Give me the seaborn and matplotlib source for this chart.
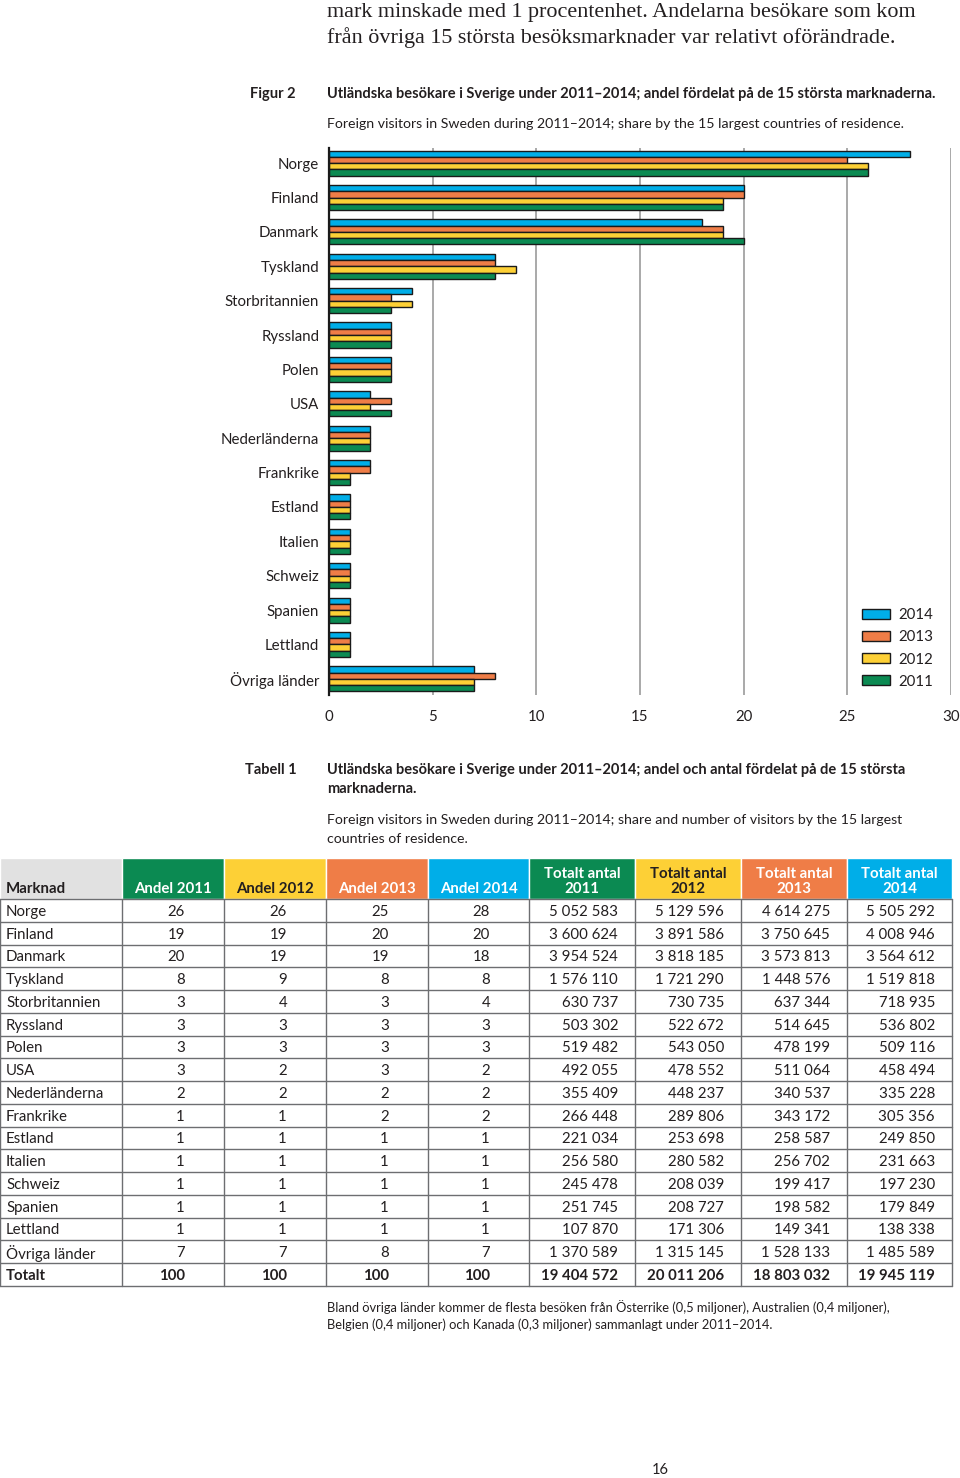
import pandas as pd
import seaborn as sns
import matplotlib.pyplot as plt
from matplotlib.patches import Rectangle

# ---------------------------------- data ----------------------------------
marknader = ["Norge", "Finland", "Danmark", "Tyskland", "Storbritannien", "Ryssland",
             "Polen", "USA", "Nederländerna", "Frankrike", "Estland", "Italien",
             "Schweiz", "Spanien", "Lettland", "Övriga länder"]

andel_2011 = [26, 19, 20, 8, 3, 3, 3, 3, 2, 1, 1, 1, 1, 1, 1, 7]
andel_2012 = [26, 19, 19, 9, 4, 3, 3, 2, 2, 1, 1, 1, 1, 1, 1, 7]
andel_2013 = [25, 20, 19, 8, 3, 3, 3, 3, 2, 2, 1, 1, 1, 1, 1, 8]
andel_2014 = [28, 20, 18, 8, 4, 3, 3, 2, 2, 2, 1, 1, 1, 1, 1, 7]

antal_2011 = [5052583, 3600624, 3954524, 1576110, 630737, 503302, 519482, 492055,
              355409, 266448, 221034, 256580, 245478, 251745, 107870, 1370589]
antal_2012 = [5129596, 3891586, 3818185, 1721290, 730735, 522672, 543050, 478552,
              448237, 289806, 253698, 280582, 208039, 208727, 171306, 1315145]
antal_2013 = [4614275, 3750645, 3573813, 1448576, 637344, 514645, 478199, 511064,
              340537, 343172, 258587, 256702, 199417, 198582, 149341, 1528133]
antal_2014 = [5505292, 4008946, 3564612, 1519818, 718935, 536802, 509116, 458494,
              335228, 305356, 249850, 231663, 197230, 179849, 138338, 1485589]

totalt_andel = [100, 100, 100, 100]
totalt_antal = [19404572, 20011206, 18803032, 19945119]

ar_order = ["2014", "2013", "2012", "2011"]
farger = {"2014": "#00aee8", "2013": "#ef7d47", "2012": "#fdd036", "2011": "#0b8a52"}
textfarg = "#231f20"

# long format for seaborn
df = pd.DataFrame({
    "Marknad": marknader * 4,
    "År": ["2014"] * 16 + ["2013"] * 16 + ["2012"] * 16 + ["2011"] * 16,
    "Andel": andel_2014 + andel_2013 + andel_2012 + andel_2011,
})

sns.set_style("white")
plt.rcParams["font.family"] = ["Lato", "DejaVu Sans"]
plt.rcParams["text.color"] = textfarg

W, H = 960, 1478
fig = plt.figure(figsize=(W / 100, H / 100), dpi=100)


def box(l, t, r, b):
    return [l / W, 1 - b / H, (r - l) / W, (b - t) / H]


def txt(x, y, s, **kw):
    fig.text(x / W, 1 - y / H, s, va="center", **kw)


# ---------------------------------- running text ----------------------------------
serif = ["Liberation Serif", "DejaVu Serif"]
txt(327, 12, "mark minskade med 1 procentenhet. Andelarna besökare som kom",
    family=serif, fontsize=15.9)
txt(327, 38, "från övriga 15 största besöksmarknader var relativt oförändrade.",
    family=serif, fontsize=15.9)

txt(250, 94, "Figur 2", fontsize=10.5, fontweight="bold")
txt(327, 94, "Utländska besökare i Sverige under 2011–2014; andel fördelat på de 15 största marknaderna.",
    fontsize=10.5, fontweight="bold")
txt(327, 124, "Foreign visitors in Sweden during 2011–2014; share by the 15 largest countries of residence.",
    fontsize=10.2)

# ---------------------------------- bar chart ----------------------------------
ax = fig.add_axes(box(329, 148, 951, 695))
sns.barplot(data=df, x="Andel", y="Marknad", hue="År", hue_order=ar_order,
            palette=farger, orient="h", width=0.73, saturation=1,
            edgecolor="#1a1a1a", linewidth=1, ax=ax)
ax.set_xlim(0, 30)
ax.set_ylim(15.47, -0.44)
ax.set_xticks(range(0, 31, 5))
ax.set_xlabel("")
ax.set_ylabel("")
ax.grid(axis="x", color="#a3a3a3", linewidth=1.3)
ax.set_axisbelow(True)
for s in ["top", "right", "bottom"]:
    ax.spines[s].set_visible(False)
ax.spines["left"].set_color("#1a1a1a")
ax.spines["left"].set_linewidth(1.6)
ax.tick_params(axis="y", length=0, pad=7, labelsize=10.8, labelcolor=textfarg)
ax.tick_params(axis="x", length=0, pad=11, labelsize=10.8, labelcolor=textfarg)

handles, labels = ax.get_legend_handles_labels()
ax.legend(handles, labels, loc="upper left", bbox_to_anchor=(862 / W, 1 - 608 / H),
          bbox_transform=fig.transFigure, frameon=False, borderpad=0, borderaxespad=0,
          fontsize=10.8, handlelength=1.85, handleheight=0.65, handletextpad=0.6,
          labelspacing=0.55)

# ---------------------------------- table caption ----------------------------------
txt(245, 770, "Tabell 1", fontsize=10.5, fontweight="bold")
txt(327, 770, "Utländska besökare i Sverige under 2011–2014; andel och antal fördelat på de 15 största",
    fontsize=10.5, fontweight="bold")
txt(327, 789, "marknaderna.", fontsize=10.5, fontweight="bold")
txt(327, 820, "Foreign visitors in Sweden during 2011–2014; share and number of visitors by the 15 largest",
    fontsize=10.2)
txt(327, 839, "countries of residence.", fontsize=10.2)

# ---------------------------------- table ----------------------------------
tab = fig.add_axes(box(0, 850, 960, 1295))
tab.set_xlim(0, 960)
tab.set_ylim(1295, 850)
tab.axis("off")

kol = [0, 122, 224, 326, 428, 529, 635, 741, 847, 952]
hy0, hy1 = 858, 899
rad_h = 22.75

rubriker = ["Marknad", "Andel 2011", "Andel 2012", "Andel 2013", "Andel 2014",
            "Totalt antal\n2011", "Totalt antal\n2012", "Totalt antal\n2013", "Totalt antal\n2014"]
rub_bg = ["#e1e1e1", farger["2011"], farger["2012"], farger["2013"], farger["2014"],
          farger["2011"], farger["2012"], farger["2013"], farger["2014"]]
rub_fg = [textfarg, "white", textfarg, "white", "white", "white", textfarg, "white", "white"]

for i in range(9):
    tab.add_patch(Rectangle((kol[i], hy0), kol[i + 1] - kol[i], hy1 - hy0,
                            facecolor=rub_bg[i], edgecolor="white", linewidth=1))
    if i == 0:
        tab.text(kol[0] + 6, hy1 - 3, rubriker[i], ha="left", va="bottom",
                 fontsize=10.8, fontweight="bold", color=rub_fg[i])
    else:
        tab.text((kol[i] + kol[i + 1]) / 2, hy1 - 3, rubriker[i], ha="center", va="bottom",
                 fontsize=10.8, fontweight="bold", color=rub_fg[i], linespacing=1.05)


def fmt(n):
    return f"{n:,}".replace(",", " ")


rader = []
for j, m in enumerate(marknader):
    rader.append([m, andel_2011[j], andel_2012[j], andel_2013[j], andel_2014[j],
                  antal_2011[j], antal_2012[j], antal_2013[j], antal_2014[j]])
rader.append(["Totalt"] + totalt_andel + totalt_antal)

for r, rad in enumerate(rader):
    yc = hy1 + (r + 0.5) * rad_h + 1.5
    vikt = "bold" if rad[0] == "Totalt" else "normal"
    tab.text(kol[0] + 6, yc, rad[0], ha="left", va="center", fontsize=10.8, fontweight=vikt)
    for c in range(1, 9):
        if c <= 4:
            s, pad = str(rad[c]), 39
        else:
            s, pad = fmt(rad[c]), 17
        tab.text(kol[c + 1] - pad, yc, s, ha="right", va="center", fontsize=10.8, fontweight=vikt)

linje = dict(color="#6d6e71", linewidth=1)
botten = hy1 + len(rader) * rad_h
for r in range(len(rader) + 1):
    y = hy1 + r * rad_h
    tab.plot([kol[0], kol[-1]], [y, y], **linje)
for x in kol:
    tab.plot([x, x], [hy1, botten], **linje)

# ---------------------------------- footnote ----------------------------------
txt(327, 1307, "Bland övriga länder kommer de flesta besöken från Österrike (0,5 miljoner), Australien (0,4 miljoner),",
    fontsize=9.3)
txt(327, 1325, "Belgien (0,4 miljoner) och Kanada (0,3 miljoner) sammanlagt under 2011–2014.",
    fontsize=9.3)

txt(660, 1470, "16", fontsize=10.5, ha="center")

fig.savefig("out.png", dpi=100)
